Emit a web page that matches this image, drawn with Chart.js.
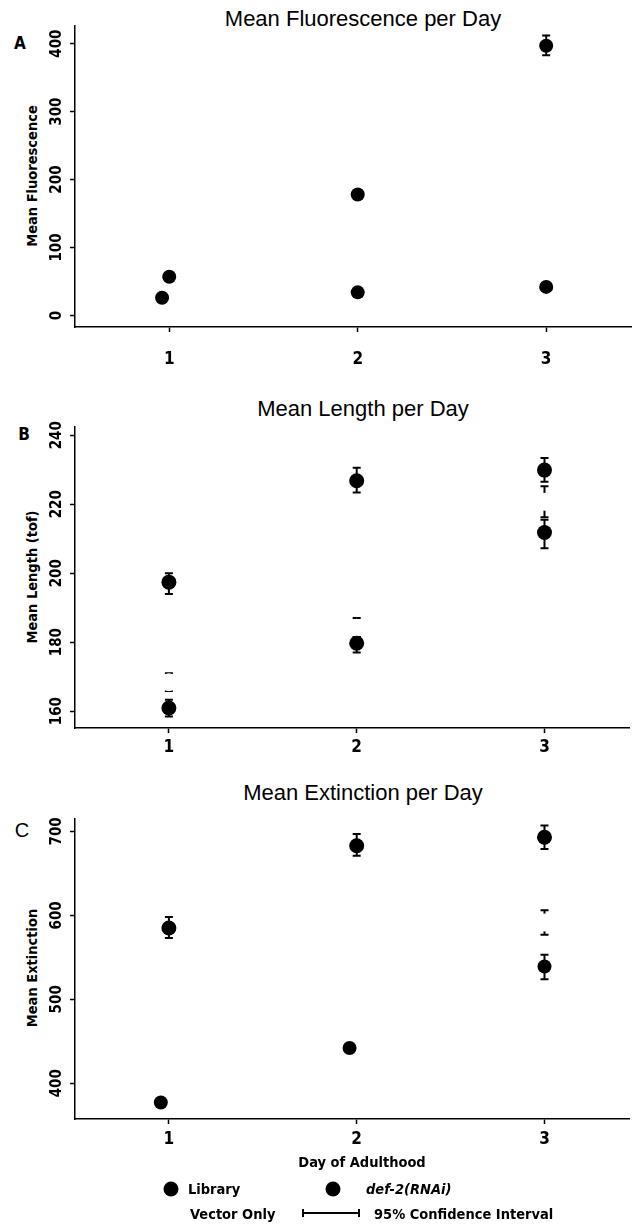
<!DOCTYPE html>
<html>
<head>
<meta charset="utf-8">
<script src="https://cdn.jsdelivr.net/npm/chart.js@4.4.0/dist/chart.umd.min.js"></script>
<style>
  html, body { margin: 0; padding: 0; background: #fff; }
  body { width: 638px; height: 1231px; position: relative; overflow: hidden; color: #000;
         font-family: 'Liberation Sans', Arial, sans-serif; }
  canvas { position: absolute; left: 0; }
  .title { position: absolute; left: 75px; width: 576px; text-align: center; font-size: 22px; line-height: 22px; }
  .narrow { font-family: 'Liberation Sans Narrow', 'DejaVu Sans Condensed', 'Liberation Sans', sans-serif; font-weight: bold; }
  .ytitle { position: absolute; left: 32px; font-size: 14.5px; white-space: nowrap;
            transform: translate(-50%, -50%) rotate(-90deg); }
  .letter { position: absolute; font-weight: bold; font-size: 17px; transform: translate(-50%, -50%); }
  .lg { position: absolute; font-size: 14.5px; white-space: nowrap; transform: translateY(-50%); }
  .dot { position: absolute; width: 15px; height: 15px; border-radius: 50%; background: #000; transform: translate(-50%, -50%); }
  .ci { position: absolute; height: 2px; background: #000; }
  .ci::before, .ci::after { content: ''; position: absolute; top: -3px; width: 2px; height: 8px; background: #000; }
  .ci::before { left: 0; } .ci::after { right: 0; }
</style>
</head>
<body>

<div class="title" style="top:8px">Mean Fluorescence per Day</div>
<div class="title" style="top:398px">Mean Length per Day</div>
<div class="title" style="top:782px">Mean Extinction per Day</div>

<div class="letter narrow" style="left:20px; top:43px">A</div>
<div class="letter narrow" style="left:24px; top:434px">B</div>
<div class="letter" style="left:22px; top:830px; font-size:20px; font-weight:normal">C</div>

<div class="ytitle narrow" style="top:176px">Mean Fluorescence</div>
<div class="ytitle narrow" style="top:577px">Mean Length (tof)</div>
<div class="ytitle narrow" style="top:968px">Mean Extinction</div>

<canvas id="chartA" width="638" height="380" style="top:0"></canvas>
<canvas id="chartB" width="638" height="380" style="top:380px"></canvas>
<canvas id="chartC" width="638" height="420" style="top:760px"></canvas>

<div class="lg narrow" style="left:362px; top:1162px; transform:translate(-50%,-50%)">Day of Adulthood</div>

<div class="dot" style="left:171px; top:1189px"></div>
<div class="lg narrow" style="left:188px; top:1189px">Library</div>
<div class="dot" style="left:333px; top:1189px"></div>
<div class="lg narrow" style="left:366px; top:1189px; font-style:italic">def-2(RNAi)</div>
<div class="lg narrow" style="left:190px; top:1214px">Vector Only</div>
<div class="ci" style="left:302px; width:58px; top:1212px"></div>
<div class="lg narrow" style="left:374px; top:1214px">95% Confidence Interval</div>

<script>
// ---- data ----
const days = [1, 2, 3];

// A: mean fluorescence
const fluoYTicks = [0, 100, 200, 300, 400];
const fluoDaf = [57, 178, 397];
const fluoDafLo = [null, null, 383];
const fluoDafHi = [null, null, 412];
const fluoLibX = [0.962, 2, 3];
const fluoLib = [26, 34, 42];

// B: mean length (tof)
const lenYTicks = [160, 180, 200, 220, 240];
const lenDaf = [197.4, 226.8, 229.9];
const lenDafLo = [194, 223.4, 226.5];
const lenDafHi = [200, 230.6, 233.4];
const lenLib = [160.9, 179.7, 211.8];
const lenLibLo = [158.4, 177, 207.2];
const lenLibHi = [163.3, 181.5, 215.5];
const lenVec = [168.4, 184.2, 220.7];
const lenVecLo = [165.8, 181.5, 216.2];
const lenVecHi = [171, 187, 225.2];

// C: mean extinction
const extYTicks = [400, 500, 600, 700];
const extDaf = [585, 683, 693];
const extDafLo = [573, 671, 679];
const extDafHi = [598, 697, 707];
const extLibX = [0.957, 1.962, 3];
const extLib = [377, 442, 539];
const extLibLo = [null, null, 524];
const extLibHi = [null, null, 553];
const extVec = [null, null, 591.5];
const extVecLo = [null, null, 577];
const extVecHi = [null, null, 606];

const NARROW = "'Liberation Sans Narrow', 'DejaVu Sans Condensed', 'Liberation Sans', sans-serif";

function pts(xs, ys, lo, hi) {
    const out = [];
    ys.forEach((v, i) => {
        if (v == null) return;
        out.push({ x: xs[i], y: v, lo: lo ? lo[i] : null, hi: hi ? hi[i] : null });
    });
    return out;
}

// error bars drawn under each dataset's own markers
const errorBars = {
    id: 'errorBars',
    beforeDatasetDraw(chart, args) {
        const ds = chart.data.datasets[args.index];
        const { x, y } = chart.scales;
        const ctx = chart.ctx;
        ctx.save();
        ctx.strokeStyle = '#000';
        ctx.lineWidth = 2;
        ds.data.forEach(p => {
            if (p.lo == null || p.hi == null) return;
            const px = x.getPixelForValue(p.x);
            const lo = y.getPixelForValue(p.lo);
            const hi = y.getPixelForValue(p.hi);
            ctx.beginPath();
            ctx.moveTo(px, lo); ctx.lineTo(px, hi);
            ctx.moveTo(px - 4, lo); ctx.lineTo(px + 4, lo);
            ctx.moveTo(px - 4, hi); ctx.lineTo(px + 4, hi);
            ctx.stroke();
        });
        ctx.restore();
    }
};

// rotated y labels and x labels, placed through the chart scales
const tickLabels = {
    id: 'tickLabels',
    afterDraw(chart, args, opts) {
        const ctx = chart.ctx;
        const { x, y } = chart.scales;
        ctx.save();
        ctx.fillStyle = '#000';
        ctx.textAlign = 'center';
        ctx.textBaseline = 'middle';
        ctx.font = 'bold 15px ' + NARROW;
        y.ticks.forEach(t => {
            ctx.save();
            ctx.translate(57, y.getPixelForValue(t.value));
            ctx.rotate(-Math.PI / 2);
            ctx.fillText(String(t.value), 0, 0);
            ctx.restore();
        });
        ctx.font = 'bold 17px ' + NARROW;
        x.ticks.forEach(t => {
            ctx.fillText(String(t.value), x.getPixelForValue(t.value), chart.chartArea.bottom + opts.offset);
        });
        ctx.restore();
    }
};

function makeChart(id, datasets, yMin, yMax, yTicks, pad, labelOffset) {
    const axisStyle = {
        border: { display: true, color: '#000', width: 1.5 },
        grid: { display: true, drawOnChartArea: false, drawTicks: true, tickLength: 5, tickColor: '#000', tickWidth: 1.5 },
        ticks: { display: false }
    };
    return new Chart(document.getElementById(id), {
        type: 'scatter',
        data: { datasets: datasets },
        options: {
            responsive: false,
            animation: false,
            layout: { padding: pad },
            plugins: { legend: { display: false }, tooltip: { enabled: false }, tickLabels: { offset: labelOffset } },
            scales: {
                x: Object.assign({}, axisStyle, {
                    type: 'linear', min: 0.5, max: 3.45,
                    afterBuildTicks: s => { s.ticks = days.map(v => ({ value: v })); },
                    afterFit: s => { s.height = 0; }
                }),
                y: Object.assign({}, axisStyle, {
                    type: 'linear', min: yMin, max: yMax,
                    afterBuildTicks: s => { s.ticks = yTicks.map(v => ({ value: v })); },
                    afterFit: s => { s.width = 0; }
                })
            }
        },
        plugins: [errorBars, tickLabels]
    });
}

function blackSet(data, r) {
    return { data: data, pointRadius: r, pointHoverRadius: r, backgroundColor: '#000', borderWidth: 0 };
}
function whiteSet(data) {
    return { data: data, pointRadius: 9, pointHoverRadius: 9, backgroundColor: '#fff', borderWidth: 0 };
}

// dataset order: first is drawn on top
makeChart('chartA', [
    blackSet(pts(days, fluoDaf, fluoDafLo, fluoDafHi), 7),
    blackSet(pts(fluoLibX, fluoLib), 7)
], -17, 426, fluoYTicks, { top: 26, bottom: 53, left: 75, right: 0 }, 33);

makeChart('chartB', [
    blackSet(pts(days, lenDaf, lenDafLo, lenDafHi), 7.5),
    blackSet(pts(days, lenLib, lenLibLo, lenLibHi), 7.5),
    whiteSet(pts(days, lenVec, lenVecLo, lenVecHi))
], 155.1, 242.4, lenYTicks, { top: 47, bottom: 32, left: 75, right: 0 }, 20);

makeChart('chartC', [
    blackSet(pts(days, extDaf, extDafLo, extDafHi), 7.5),
    blackSet(pts(extLibX, extLib, extLibLo, extLibHi), 7),
    whiteSet(pts(days, extVec, extVecLo, extVecHi))
], 357.4, 714.8, extYTicks, { top: 59, bottom: 61, left: 75, right: 0 }, 21);
</script>
</body>
</html>
